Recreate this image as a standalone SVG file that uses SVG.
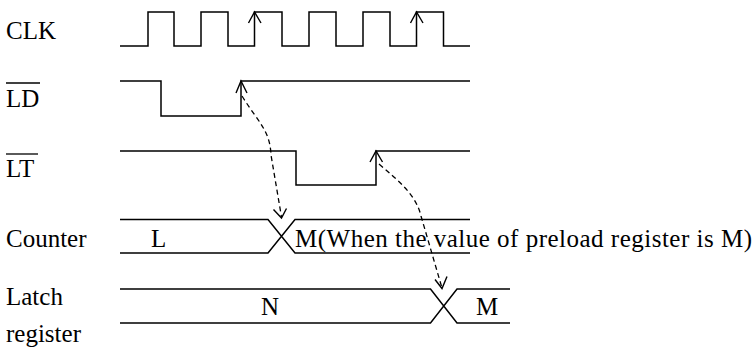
<svg xmlns="http://www.w3.org/2000/svg" width="756" height="358" viewBox="0 0 756 358">
<style>
.w{fill:none;stroke:#000;stroke-width:1.5;stroke-linejoin:miter}
.d{fill:none;stroke:#000;stroke-width:1.3;stroke-dasharray:5 3.5}
.ah{fill:none;stroke:#000;stroke-width:1.4}
</style>
<rect width="756" height="358" fill="#fff"/>
<g id="clk">
<text x="6" y="39" font-family="Liberation Serif" font-size="25">CLK</text>
<path class="w" d="M120,46 H148 V12 H174 V46 H201 V12 H228 V46 H254.5 V12 H282 V46 H309 V12 H336 V46 H363 V12 H390 V46 H416.5 V12 H443.5 V46 H470"/>
<path class="ah" d="M248.5,23 L254.5,12 L261,23"/>
<path class="ah" d="M410.5,23 L416.5,12 L423,23"/>
</g>
<g id="ld">
<text x="6" y="107" font-family="Liberation Serif" font-size="25">LD</text>
<line x1="6" y1="83" x2="40" y2="83" stroke="#000" stroke-width="1.3"/>
<path class="w" d="M120,81 H161 V116 H241 V81 H470"/>
<path class="ah" d="M236,93 L241,81 L247,93"/>
</g>
<g id="lt">
<text x="6" y="177" font-family="Liberation Serif" font-size="25">LT</text>
<line x1="6" y1="154" x2="38" y2="154" stroke="#000" stroke-width="1.3"/>
<path class="w" d="M120,151 H296 V185 H376 V151 H470"/>
<path class="ah" d="M370,162 L376,151 L382.5,162"/>
</g>
<g id="counter">
<text x="6" y="247" font-family="Liberation Serif" font-size="25">Counter</text>
<path class="w" d="M120,219.5 H268 L295,253 H470 M120,253 H268 L295,219.5 H470"/>
<text x="151" y="247" font-family="Liberation Serif" font-size="25">L</text>
<text x="295" y="247" font-family="Liberation Serif" font-size="25" textLength="457" lengthAdjust="spacing">M(When the value of preload register is M)</text>
</g>
<g id="latch">
<text x="6" y="305" font-family="Liberation Serif" font-size="25">Latch</text>
<text x="6" y="342" font-family="Liberation Serif" font-size="25">register</text>
<path class="w" d="M120,289 H430.5 L457,323 H510 M120,323 H430.5 L457,289 H510"/>
<text x="261" y="315" font-family="Liberation Serif" font-size="25">N</text>
<text x="476" y="315" font-family="Liberation Serif" font-size="25">M</text>
</g>
<g id="connectors">
<path class="d" d="M242,96 C258,122 270,130 271,155 L281.5,217"/>
<path class="ah" d="M273.5,209.5 L281.5,218 L286.5,208.5"/>
<path class="d" d="M379,164 C400,182 416,195 421,216 L442,288"/>
<path class="ah" d="M435,279.5 L442,288.5 L447,276.5"/>
</g>
</svg>
